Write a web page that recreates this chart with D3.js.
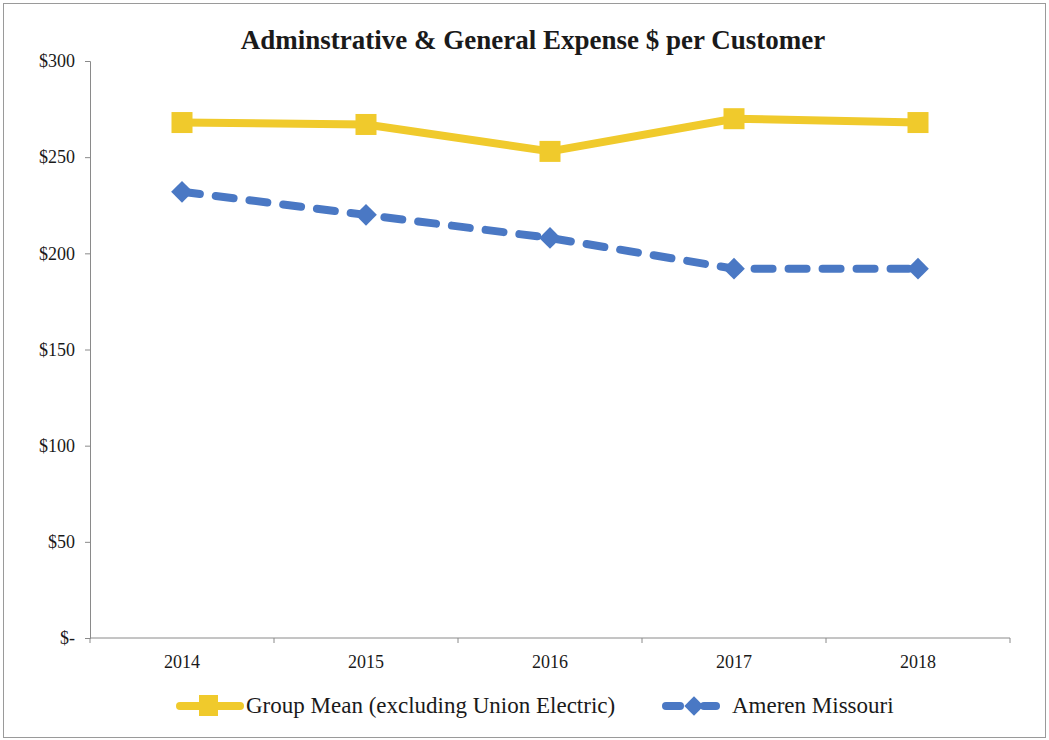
<!DOCTYPE html>
<html>
<head>
<meta charset="utf-8">
<script src="https://d3js.org/d3.v7.min.js"></script>
<style>
  body { margin: 0; background: #fff; }
  text { font-family: "Liberation Serif", "Times New Roman", serif; fill: #1a1a1a; }
</style>
</head>
<body>
<div id="chart"></div>
<script>
// Data
var years = ["2014", "2015", "2016", "2017", "2018"];
var groupMean = [268, 267, 253, 270, 268];
var amerenMissouri = [232, 220, 208, 192, 192];
var yTicks = [0, 50, 100, 150, 200, 250, 300];

var svgWidth = 1049;
var svgHeight = 740;

var margin = { top: 61, right: 39, bottom: 102, left: 90 };
var chartWidth = svgWidth - margin.left - margin.right;
var chartHeight = svgHeight - margin.top - margin.bottom;

var yellow = "#F0CA2C";
var blue = "#4A78C4";

var svg = d3.select("#chart")
  .append("svg")
  .attr("width", svgWidth)
  .attr("height", svgHeight);

// outer frame
svg.append("rect")
  .attr("x", 3.5).attr("y", 3.5)
  .attr("width", svgWidth - 7).attr("height", svgHeight - 6)
  .attr("fill", "none")
  .attr("stroke", "#9a9a9a")
  .attr("stroke-width", 1);

var chartGroup = svg.append("g")
  .attr("transform", `translate(${margin.left}, ${margin.top})`);

var xBand = d3.scaleBand()
  .domain(years)
  .range([0, chartWidth]);

var yLinearScale = d3.scaleLinear()
  .domain([0, 300])
  .range([chartHeight, 0]);

var xPos = d => xBand(d) + xBand.bandwidth() / 2;

// y axis
var leftAxis = d3.axisLeft(yLinearScale)
  .tickValues(yTicks)
  .tickSize(5)
  .tickPadding(10)
  .tickFormat(d => d === 0 ? "$-" : "$" + d);

var yAxisG = chartGroup.append("g").call(leftAxis);
yAxisG.select(".domain").attr("stroke", "#8a8a8a");
yAxisG.selectAll(".tick line").attr("stroke", "#8a8a8a");
yAxisG.selectAll(".tick text")
  .style("font-size", "18px")
  .style("font-family", "Liberation Serif, serif")
  .attr("fill", "#1a1a1a");

// x axis: ticks sit between categories
var xAxisG = chartGroup.append("g")
  .attr("transform", `translate(0, ${chartHeight})`);

xAxisG.append("line")
  .attr("x1", 0).attr("x2", chartWidth)
  .attr("stroke", "#8a8a8a");

xAxisG.selectAll(".xtick")
  .data(years.concat(["end"]))
  .enter().append("line")
  .attr("x1", (d, i) => i * xBand.bandwidth())
  .attr("x2", (d, i) => i * xBand.bandwidth())
  .attr("y1", 0).attr("y2", 5)
  .attr("stroke", "#8a8a8a");

xAxisG.selectAll(".xlabel")
  .data(years)
  .enter().append("text")
  .attr("x", d => xPos(d))
  .attr("y", 30)
  .attr("text-anchor", "middle")
  .style("font-size", "18px")
  .text(d => d);

// lines
var drawLine = d3.line()
  .x((d, i) => xPos(years[i]))
  .y(d => yLinearScale(d));

chartGroup.append("path")
  .attr("d", drawLine(amerenMissouri))
  .attr("fill", "none")
  .attr("stroke", blue)
  .attr("stroke-width", 8)
  .attr("stroke-linecap", "round")
  .attr("stroke-dasharray", "18 16");

chartGroup.append("path")
  .attr("d", drawLine(groupMean))
  .attr("fill", "none")
  .attr("stroke", yellow)
  .attr("stroke-width", 8)
  .attr("stroke-linejoin", "round");

// markers
var sq = 21;
chartGroup.selectAll(".sq")
  .data(groupMean)
  .enter().append("rect")
  .attr("x", (d, i) => xPos(years[i]) - sq / 2)
  .attr("y", d => yLinearScale(d) - sq / 2)
  .attr("width", sq).attr("height", sq)
  .attr("fill", yellow);

var diamond = d3.symbol().type(d3.symbolDiamond2).size(300);
chartGroup.selectAll(".dm")
  .data(amerenMissouri)
  .enter().append("path")
  .attr("d", diamond)
  .attr("transform", (d, i) => `translate(${xPos(years[i])}, ${yLinearScale(d)})`)
  .attr("fill", blue);

// title
svg.append("text")
  .attr("x", 533)
  .attr("y", 49)
  .attr("text-anchor", "middle")
  .style("font-size", "27px")
  .style("font-weight", "bold")
  .text("Adminstrative & General Expense $ per Customer");

// legend
var legend = svg.append("g").attr("transform", "translate(0, 706)");

legend.append("line")
  .attr("x1", 180).attr("x2", 240)
  .attr("stroke", yellow).attr("stroke-width", 8).attr("stroke-linecap", "round");
legend.append("rect")
  .attr("x", 199).attr("y", -11).attr("width", 19).attr("height", 21)
  .attr("fill", yellow);
legend.append("text")
  .attr("x", 246).attr("y", 7)
  .style("font-size", "23px")
  .text("Group Mean (excluding Union Electric)");

legend.append("line")
  .attr("x1", 666).attr("x2", 680)
  .attr("stroke", blue).attr("stroke-width", 8).attr("stroke-linecap", "round");
legend.append("line")
  .attr("x1", 704).attr("x2", 716)
  .attr("stroke", blue).attr("stroke-width", 8).attr("stroke-linecap", "round");
legend.append("path")
  .attr("d", d3.symbol().type(d3.symbolDiamond2).size(240))
  .attr("transform", "translate(694, 0)")
  .attr("fill", blue);
legend.append("text")
  .attr("x", 732).attr("y", 7)
  .style("font-size", "23px")
  .text("Ameren Missouri");
</script>
</body>
</html>
